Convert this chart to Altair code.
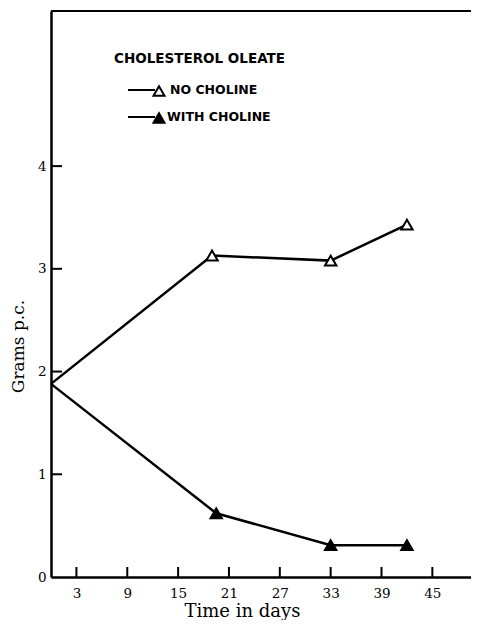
import altair as alt
import pandas as pd

# ---- data ----
days_no = [0, 19, 33, 42]
grams_no = [1.88, 3.13, 3.08, 3.43]
days_with = [0, 19.5, 33, 42]
grams_with = [1.88, 0.62, 0.31, 0.31]
x_ticks = [3, 9, 15, 21, 27, 33, 39, 45]
y_ticks = [0, 1, 2, 3, 4]
series = ["NO CHOLINE", "WITH CHOLINE"]
legend_title = "CHOLESTEROL OLEATE"
x_title = "Time in days"
y_title = "Grams p.c."

df = pd.DataFrame({
    "day": days_no + days_with,
    "grams": grams_no + grams_with,
    "series": [series[0]] * len(days_no) + [series[1]] * len(days_with),
})
markers = df[df["day"] > 0]

W, H = 420, 566
xs = alt.Scale(domain=[0, 49.56], nice=False, zero=False)
ys = alt.Scale(domain=[0, 5.51], nice=False)
fill_scale = alt.Scale(domain=series, range=["white", "black"])

SERIF = "DejaVu Serif"
SANS = "DejaVu Sans"

x_axis = alt.Axis(
    values=x_ticks, ticks=False, tickSize=0, grid=False,
    domainColor="black", domainWidth=2.5,
    labelFont=SERIF, labelFontSize=13.5, labelColor="black",
    labelBaseline="alphabetic", labelPadding=20,
    title=x_title, titleFont=SERIF, titleFontSize=18, titleFontWeight="normal",
    titleColor="black", titleX=191, titleY=39, titleBaseline="alphabetic",
    titleAlign="center",
)
y_axis = alt.Axis(
    values=y_ticks, ticks=False, tickSize=0, grid=False,
    domainColor="black", domainWidth=2.5,
    labelFont=SERIF, labelFontSize=13.5, labelColor="black", labelPadding=5,
    title=y_title, titleFont=SERIF, titleFontSize=17, titleFontWeight="normal",
    titleColor="black", titleX=-33, titleY=335, titleAngle=270,
    titleBaseline="middle", titleAlign="center",
)

X = lambda: alt.X("day:Q", scale=xs, axis=x_axis, title=x_title)
Y = lambda: alt.Y("grams:Q", scale=ys, axis=y_axis, title=y_title)

lines = alt.Chart(df).mark_line(color="black", strokeWidth=2.5).encode(
    x=X(), y=Y(), detail="series:N",
)

points = alt.Chart(markers).mark_point(
    shape="triangle-up", size=130, strokeWidth=2, filled=True, opacity=1, stroke="black"
).encode(
    x=X(), y=Y(),
    fill=alt.Fill("series:N", scale=fill_scale, legend=None),
)

xt = alt.Chart(pd.DataFrame({"day": x_ticks})).mark_rule(color="black", strokeWidth=2).encode(
    x=X(), y=alt.value(H - 10), y2=alt.value(H),
)
yt = alt.Chart(pd.DataFrame({"grams": y_ticks[1:]})).mark_rule(color="black", strokeWidth=2).encode(
    y=Y(), x=alt.value(0), x2=alt.value(11),
)

top_border = alt.Chart(pd.DataFrame({"k": [0]})).mark_rule(color="black", strokeWidth=2).encode(
    x=alt.value(0), x2=alt.value(W), y=alt.value(0),
)

leg_title = alt.Chart(pd.DataFrame({"label": [legend_title]})).mark_text(
    font=SANS, fontSize=13.5, fontWeight="bold", color="black", align="left", baseline="middle"
).encode(text="label:N", x=alt.value(63), y=alt.value(48))

leg_items = []
for name, ypix, xtext in zip(series, [79, 106], [119, 116]):
    d = pd.DataFrame({"series": [name]})
    leg_items.append(
        alt.Chart(d).mark_rule(color="black", strokeWidth=2).encode(
            x=alt.value(77), x2=alt.value(104), y=alt.value(ypix))
    )
    leg_items.append(
        alt.Chart(d).mark_point(shape="triangle-up", size=120, strokeWidth=2, filled=True,
                                opacity=1, stroke="black").encode(
            x=alt.value(108), y=alt.value(ypix + 1),
            fill=alt.Fill("series:N", scale=fill_scale, legend=None))
    )
    leg_items.append(
        alt.Chart(d).mark_text(font=SANS, fontSize=12.5, fontWeight="bold", color="black",
                               align="left", baseline="middle").encode(
            text="series:N", x=alt.value(xtext), y=alt.value(ypix))
    )

chart = alt.layer(lines, points, xt, yt, top_border, leg_title, *leg_items).properties(
    width=W, height=H,
    autosize=alt.AutoSizeParams(type="none"),
    padding={"left": 43, "top": 3, "right": 0, "bottom": 43},
    background="white",
).configure_view(stroke=None)

chart.save("out.html", embed_options={"renderer": "svg", "actions": False})
